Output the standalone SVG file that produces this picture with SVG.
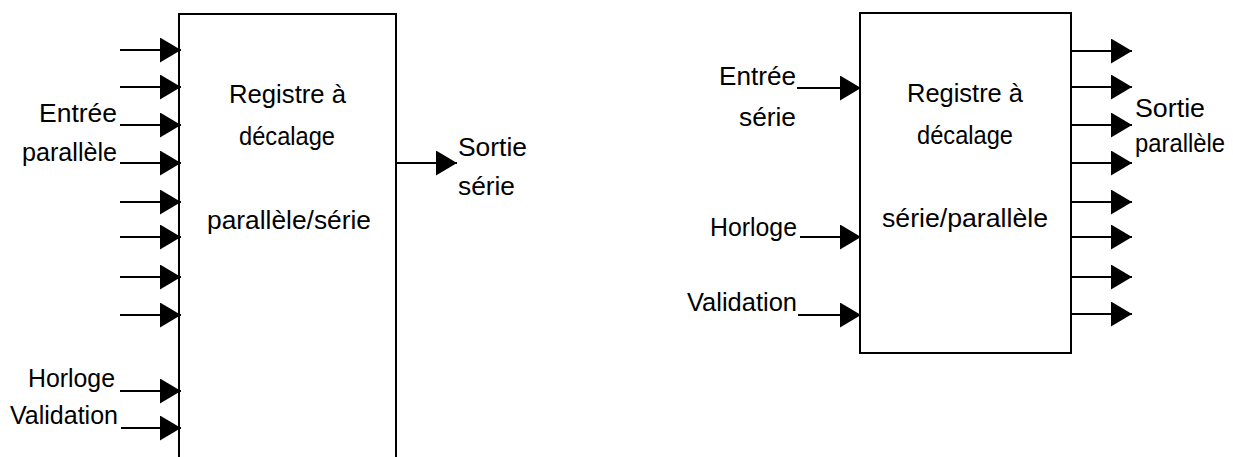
<svg xmlns="http://www.w3.org/2000/svg" width="1233" height="457" viewBox="0 0 1233 457">
<style>
.box{fill:#fff;stroke:#000;stroke-width:2}
.wire{stroke:#000;stroke-width:2;fill:none}
text{font-family:"Comic Sans MS","Liberation Sans",sans-serif;font-size:26px;fill:#000}
.m{text-anchor:middle}
.e{text-anchor:end}
</style>
<defs>
<marker id="ah" markerWidth="21" markerHeight="25" refX="21" refY="12.5" orient="auto" markerUnits="userSpaceOnUse">
<path d="M0,0 L21,12.5 L0,25 Z" fill="#000"/>
</marker>
</defs>
<g id="reg-ps">
<rect class="box" x="179" y="14" width="217" height="460"/>
<text class="m" x="287.5" y="103" textLength="117" lengthAdjust="spacingAndGlyphs">Registre à</text>
<text class="m" x="287" y="145" textLength="96" lengthAdjust="spacingAndGlyphs">décalage</text>
<text class="m" x="289" y="229" textLength="164" lengthAdjust="spacingAndGlyphs">parallèle/série</text>
</g>
<g id="reg-sp">
<rect class="box" x="860" y="13" width="211" height="340"/>
<text class="m" x="965" y="102" textLength="116" lengthAdjust="spacingAndGlyphs">Registre à</text>
<text class="m" x="965" y="144" textLength="96" lengthAdjust="spacingAndGlyphs">décalage</text>
<text class="m" x="965" y="227" textLength="166" lengthAdjust="spacingAndGlyphs">série/parallèle</text>
</g>
<g id="labels">
<text class="e" x="117" y="122" textLength="78" lengthAdjust="spacingAndGlyphs">Entrée</text>
<text class="e" x="117" y="161" textLength="95" lengthAdjust="spacingAndGlyphs">parallèle</text>
<text class="e" x="115" y="387" textLength="87" lengthAdjust="spacingAndGlyphs">Horloge</text>
<text class="e" x="118" y="424" textLength="108" lengthAdjust="spacingAndGlyphs">Validation</text>
<text x="458" y="156" textLength="69" lengthAdjust="spacingAndGlyphs">Sortie</text>
<text x="458" y="195" textLength="57" lengthAdjust="spacingAndGlyphs">série</text>
<text class="e" x="796" y="85" textLength="77" lengthAdjust="spacingAndGlyphs">Entrée</text>
<text class="e" x="796" y="126" textLength="57" lengthAdjust="spacingAndGlyphs">série</text>
<text class="e" x="797" y="236" textLength="87" lengthAdjust="spacingAndGlyphs">Horloge</text>
<text class="e" x="797" y="311" textLength="110" lengthAdjust="spacingAndGlyphs">Validation</text>
<text x="1135" y="117" textLength="70" lengthAdjust="spacingAndGlyphs">Sortie</text>
<text x="1135" y="152" textLength="90" lengthAdjust="spacingAndGlyphs">parallèle</text>
</g>
<g id="connectors" class="wire" marker-end="url(#ah)">
<line x1="120" y1="50" x2="181" y2="50"/>
<line x1="120" y1="87" x2="181" y2="87"/>
<line x1="120" y1="125" x2="181" y2="125"/>
<line x1="120" y1="163" x2="181" y2="163"/>
<line x1="120" y1="202" x2="181" y2="202"/>
<line x1="120" y1="237" x2="181" y2="237"/>
<line x1="120" y1="277" x2="181" y2="277"/>
<line x1="120" y1="315" x2="181" y2="315"/>
<line x1="120" y1="391" x2="181" y2="391"/>
<line x1="121" y1="428" x2="181" y2="428"/>
<line x1="396" y1="163" x2="457" y2="163"/>
<line x1="797" y1="88" x2="861" y2="88"/>
<line x1="800" y1="237" x2="861" y2="237"/>
<line x1="798" y1="315" x2="861" y2="315"/>
<line x1="1071" y1="51" x2="1132" y2="51"/>
<line x1="1071" y1="87" x2="1132" y2="87"/>
<line x1="1071" y1="125" x2="1132" y2="125"/>
<line x1="1071" y1="163" x2="1132" y2="163"/>
<line x1="1071" y1="202" x2="1132" y2="202"/>
<line x1="1071" y1="237" x2="1132" y2="237"/>
<line x1="1071" y1="277" x2="1132" y2="277"/>
<line x1="1071" y1="314" x2="1132" y2="314"/>
</g>
</svg>
